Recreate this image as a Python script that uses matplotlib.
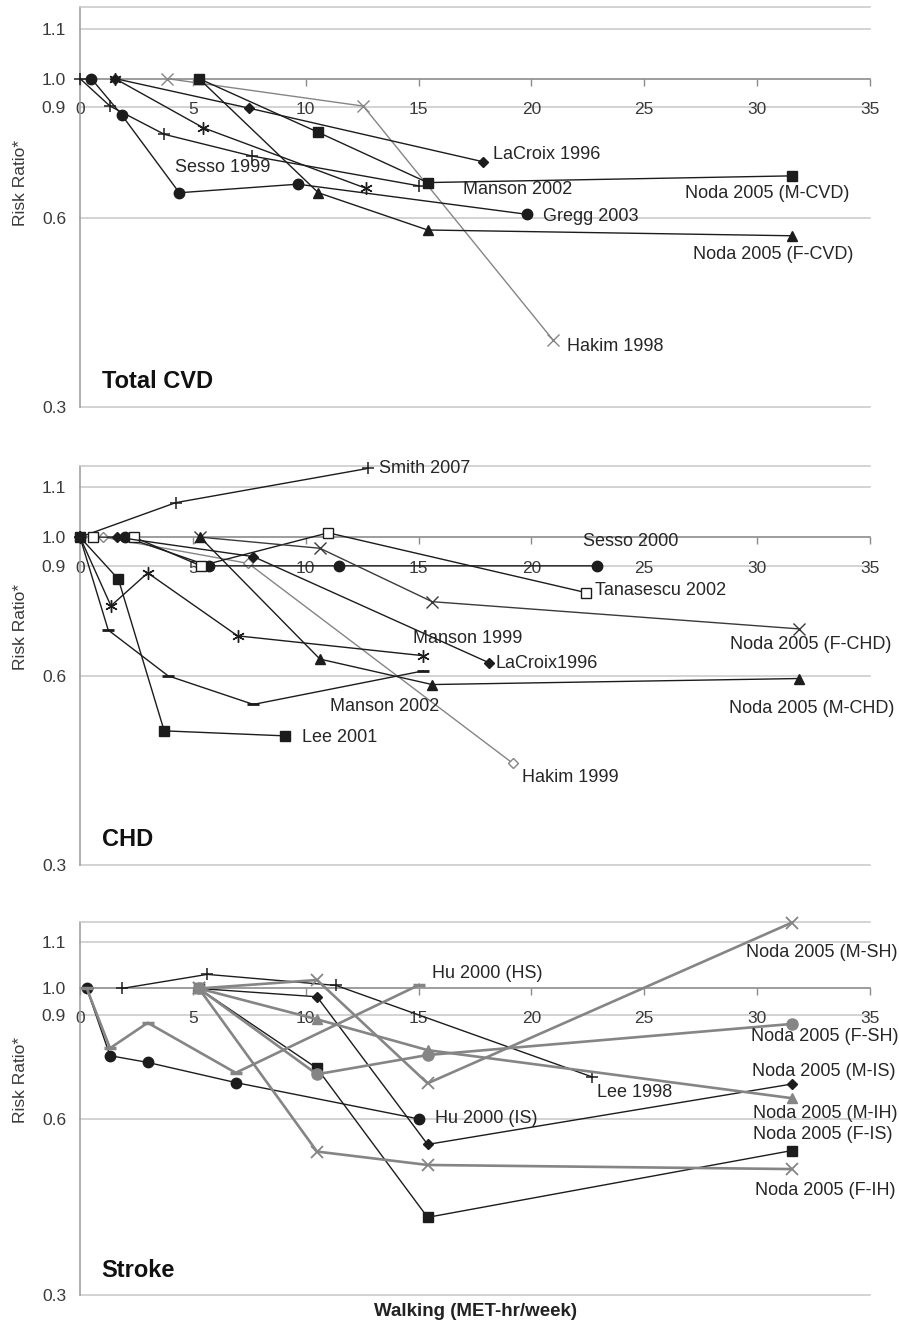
import matplotlib
matplotlib.use('Agg')
from matplotlib import pyplot as plt
from matplotlib.ticker import NullLocator

plt.rcParams['font.family'] = ['Liberation Sans', 'DejaVu Sans']

# ---------------- Total CVD ----------------
cvd_gregg_x = [0.5, 1.85, 4.4, 9.65, 19.8]
cvd_gregg_y = [1.0, 0.875, 0.658, 0.679, 0.608]
cvd_manson02_x = [0, 1.33, 3.74, 7.6, 15.0]
cvd_manson02_y = [1.0, 0.904, 0.815, 0.753, 0.675]
cvd_sesso_x = [1.55, 5.46, 12.66]
cvd_sesso_y = [1.0, 0.835, 0.669]
cvd_lacroix_x = [1.55, 7.5, 17.87]
cvd_lacroix_y = [1.0, 0.897, 0.737]
cvd_hakim_x = [3.84, 12.55, 20.97]
cvd_hakim_y = [1.0, 0.904, 0.383]
cvd_noda_x = [5.27, 10.56, 15.4, 31.53]
cvd_noda_m_y = [1.0, 0.821, 0.683, 0.70]
cvd_noda_f_y = [1.0, 0.658, 0.574, 0.562]

# ---------------- CHD ----------------
chd_smith_x = [0, 4.24, 12.75]
chd_smith_y = [1.0, 1.135, 1.287]
chd_lee_x = [0, 1.7, 3.73, 9.09]
chd_lee_y = [1.0, 0.857, 0.491, 0.482]
chd_manson99_x = [0, 1.37, 3.0, 6.98, 15.21]
chd_manson99_y = [1.0, 0.777, 0.877, 0.696, 0.647]
chd_manson02_x = [0, 1.25, 3.9, 7.68, 15.21]
chd_manson02_y = [1.0, 0.711, 0.601, 0.541, 0.612]
chd_sesso_x = [2.0, 5.7, 11.48, 22.9]
chd_sesso_y = [1.0, 0.90, 0.90, 0.90]
chd_tanasescu_x = [0.59, 2.39, 5.35, 11.0, 22.4]
chd_tanasescu_y = [1.0, 1.0, 0.90, 1.016, 0.816]
chd_hakim_x = [1.03, 7.46, 19.17]
chd_hakim_y = [1.0, 0.908, 0.436]
chd_lacroix_x = [1.62, 7.68, 18.1]
chd_lacroix_y = [1.0, 0.931, 0.631]
chd_noda_x = [5.32, 10.63, 15.6, 31.85]
chd_noda_f_y = [1.0, 0.960, 0.789, 0.714]
chd_noda_m_y = [1.0, 0.639, 0.582, 0.595]

# ---------------- Stroke ----------------
stroke_hu_x = [0.3, 1.33, 3.0, 6.9, 15.02]
stroke_hu_is_y = [1.0, 0.768, 0.748, 0.691, 0.599]
stroke_hu_hs_y = [1.0, 0.791, 0.874, 0.718, 1.014]
stroke_lee_x = [1.85, 5.64, 11.35, 22.67]
stroke_lee_y = [1.0, 1.057, 1.012, 0.707]
stroke_noda_x = [5.27, 10.5, 15.4, 31.53]
stroke_noda_m_sh_y = [1.0, 1.034, 0.689, 1.295]
stroke_noda_f_sh_y = [1.0, 0.714, 0.770, 0.870]
stroke_noda_m_is_y = [1.0, 0.968, 0.542, 0.687]
stroke_noda_m_ih_y = [1.0, 0.886, 0.785, 0.650]
stroke_noda_f_is_y = [1.0, 0.731, 0.407, 0.529]
stroke_noda_f_ih_y = [1.0, 0.527, 0.500, 0.492]

# axis ticks (the top gridline is labelled 1.1 in the original)
ytick_pos = [0.3, 0.6, 0.9, 1.0, 1.2]
ytick_text = ['0.3', '0.6', '0.9', '1.0', '1.1']
grid_vals = [0.3, 0.6, 0.9, 1.2]
xtick_pos = [0, 5, 10, 15, 20, 25, 30, 35]

# series labels: text, x, y
cvd_labels = [("Sesso 1999", 4.21, 0.723), ("LaCroix 1996", 18.3, 0.756),
              ("Manson 2002", 16.97, 0.665), ("Noda 2005 (M-CVD)", 26.8, 0.657),
              ("Gregg 2003", 20.5, 0.604), ("Noda 2005 (F-CVD)", 27.16, 0.524),
              ("Hakim 1998", 21.58, 0.374)]
chd_labels = [("Smith 2007", 13.25, 1.287), ("Sesso 2000", 22.3, 0.983),
              ("Tanasescu 2002", 22.82, 0.823), ("Manson 1999", 14.77, 0.690),
              ("Noda 2005 (F-CHD)", 28.8, 0.675), ("LaCroix1996", 18.43, 0.629),
              ("Manson 2002", 11.08, 0.536), ("Noda 2005 (M-CHD)", 28.77, 0.533),
              ("Lee 2001", 9.82, 0.480), ("Hakim 1999", 19.57, 0.413)]
stroke_labels = [("Hu 2000 (HS)", 15.58, 1.0615), ("Noda 2005 (M-SH)", 29.5, 1.151),
                 ("Noda 2005 (F-SH)", 29.71, 0.8275), ("Noda 2005 (M-IS)", 29.76, 0.7212),
                 ("Lee 1998", 22.89, 0.665), ("Noda 2005 (M-IH)", 29.83, 0.6125),
                 ("Hu 2000 (IS)", 15.73, 0.599), ("Noda 2005 (F-IS)", 29.83, 0.5625),
                 ("Noda 2005 (F-IH)", 29.9, 0.453)]

BLACK = '#1c1c1c'
GRAY = '#858585'
GRID = '#c8c8c8'
TXT = '#262626'

styles = {
    'circle':   dict(marker='o', ms=7.5, color=BLACK, lw=1.0),
    'square':   dict(marker='s', ms=7.5, color=BLACK, lw=1.0),
    'tri':      dict(marker='^', ms=7.5, color=BLACK, lw=1.0),
    'diamond':  dict(marker='D', ms=5, color=BLACK, lw=1.0),
    'plus':     dict(marker='+', ms=8, mew=1.1, color=BLACK, lw=1.0),
    'star':     dict(marker=(6, 2, 0), ms=9, mew=1.0, color=BLACK, lw=1.0),
    'dash':     dict(marker='_', ms=8, mew=2, color=BLACK, lw=1.0),
    'xblack':   dict(marker='x', ms=8, mew=1.0, color='#3a3a3a', lw=1.0),
    'hsquare':  dict(marker='s', ms=6.5, color=BLACK, mfc='white', lw=1.0),
    'hdiamond': dict(marker='D', ms=5, color=GRAY, mfc='white', lw=1.0),
    'xgray':    dict(marker='x', ms=8, mew=1.0, color=GRAY, lw=1.0),
    'gdash':    dict(marker='_', ms=8, mew=2.5, color=GRAY, lw=1.9),
    'gx':       dict(marker='x', ms=8, mew=1.3, color=GRAY, lw=1.9),
    'gcircle':  dict(marker='o', ms=8, color=GRAY, lw=1.9),
    'gtri':     dict(marker='^', ms=7.5, color=GRAY, lw=1.9),
}

cvd_series = [
    (cvd_hakim_x, cvd_hakim_y, 'xgray'),
    (cvd_gregg_x, cvd_gregg_y, 'circle'),
    (cvd_manson02_x, cvd_manson02_y, 'plus'),
    (cvd_sesso_x, cvd_sesso_y, 'star'),
    (cvd_lacroix_x, cvd_lacroix_y, 'diamond'),
    (cvd_noda_x, cvd_noda_f_y, 'tri'),
    (cvd_noda_x, cvd_noda_m_y, 'square'),
]
chd_series = [
    (chd_hakim_x, chd_hakim_y, 'hdiamond'),
    (chd_smith_x, chd_smith_y, 'plus'),
    (chd_manson99_x, chd_manson99_y, 'star'),
    (chd_manson02_x, chd_manson02_y, 'dash'),
    (chd_lee_x, chd_lee_y, 'square'),
    (chd_sesso_x, chd_sesso_y, 'circle'),
    (chd_tanasescu_x, chd_tanasescu_y, 'hsquare'),
    (chd_lacroix_x, chd_lacroix_y, 'diamond'),
    (chd_noda_x, chd_noda_f_y, 'xblack'),
    (chd_noda_x, chd_noda_m_y, 'tri'),
]
stroke_series = [
    (stroke_hu_x, stroke_hu_is_y, 'circle'),
    (stroke_lee_x, stroke_lee_y, 'plus'),
    (stroke_noda_x, stroke_noda_m_is_y, 'diamond'),
    (stroke_noda_x, stroke_noda_f_is_y, 'square'),
    (stroke_hu_x, stroke_hu_hs_y, 'gdash'),
    (stroke_noda_x, stroke_noda_m_sh_y, 'gx'),
    (stroke_noda_x, stroke_noda_f_sh_y, 'gcircle'),
    (stroke_noda_x, stroke_noda_m_ih_y, 'gtri'),
    (stroke_noda_x, stroke_noda_f_ih_y, 'gx'),
]


def draw_panel(ax, series, labels, title, xpad):
    ax.set_yscale('log')
    ax.set_xlim(0, 35)
    ax.set_ylim(0.3, 1.3)
    for v in grid_vals:
        ax.axhline(v, color=GRID, lw=1.1, zorder=0, clip_on=False)

    for xs, ys, key in series:
        ax.plot(xs, ys, clip_on=False, zorder=3, **styles[key])

    for txt, tx, ty in labels:
        ax.text(tx, ty, txt, ha='left', va='center', fontsize=13, color=TXT, zorder=4)
    ax.text(0.96, 0.330, title, ha='left', va='center', fontsize=17,
            fontweight='bold', color='#111111')

    ax.spines['right'].set_visible(False)
    ax.spines['top'].set_color(GRID)
    ax.spines['top'].set_linewidth(1.1)
    ax.spines['left'].set_color('#9a9a9a')
    ax.spines['left'].set_linewidth(1.1)
    ax.spines['bottom'].set_position(('data', 1.0))
    ax.spines['bottom'].set_color('#8c8c8c')
    ax.spines['bottom'].set_linewidth(1.2)
    ax.spines['bottom'].set_zorder(1)

    ax.set_yticks(ytick_pos)
    ax.set_yticklabels(ytick_text)
    ax.yaxis.set_minor_locator(NullLocator())
    ax.set_xticks(xtick_pos)
    ax.set_xticklabels([str(v) for v in xtick_pos])
    ax.tick_params(axis='x', direction='out', length=5, width=1, color='#8c8c8c',
                   pad=xpad, labelsize=12.5, labelcolor='#3a3a3a')
    ax.tick_params(axis='y', length=0, pad=10, labelsize=12.5, labelcolor='#3a3a3a')


fig = plt.figure(figsize=(8.99, 13.23), dpi=100)
W, H = 899.0, 1323.0
ax1 = fig.add_axes([80 / W, 1 - 407 / H, 790 / W, 400 / H])
ax2 = fig.add_axes([80 / W, 1 - 865 / H, 790 / W, 399.3 / H])
ax3 = fig.add_axes([80 / W, 1 - 1295 / H, 790 / W, 373.3 / H])

draw_panel(ax1, cvd_series, cvd_labels, 'Total CVD', 12)
draw_panel(ax2, chd_series, chd_labels, 'CHD', 12)
draw_panel(ax3, stroke_series, stroke_labels, 'Stroke', 11)

for yc in [183, 627, 1080]:
    fig.text(21 / W, 1 - yc / H, 'Risk Ratio*', rotation=90, ha='center', va='center',
             fontsize=12.5, color='#3a3a3a')
fig.text(476 / W, 1 - 1311 / H, 'Walking (MET-hr/week)', ha='center', va='center',
         fontsize=13.5, fontweight='bold', color='#222222')

fig.savefig('out.png', dpi=100)
